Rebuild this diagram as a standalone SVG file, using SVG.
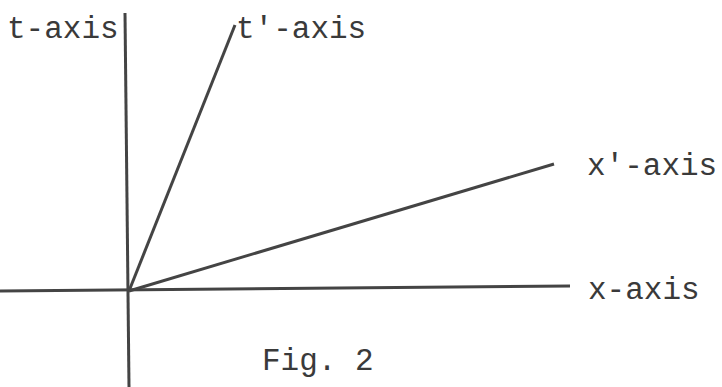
<svg xmlns="http://www.w3.org/2000/svg" width="722" height="387" viewBox="0 0 722 387">
<style>
.ax{stroke:#444;stroke-width:3;stroke-linecap:butt;fill:none}
.lb{font-family:"Liberation Mono","Courier New",monospace;font-size:31px;fill:#3a3a3a}
</style>
<rect width="722" height="387" fill="#fff"/>
<g id="connectors">
<line class="ax" x1="125" y1="13" x2="129" y2="387"/>
<line class="ax" x1="0" y1="291" x2="570" y2="286"/>
<line class="ax" x1="129" y1="291" x2="235" y2="25"/>
<line class="ax" x1="129" y1="291" x2="554" y2="164"/>
</g>
<g id="t-axis"><text class="lb" x="7" y="38">t-axis</text></g>
<g id="tp-axis"><text class="lb" x="236" y="38">t'-axis</text></g>
<g id="xp-axis"><text class="lb" x="587" y="175">x'-axis</text></g>
<g id="x-axis"><text class="lb" x="588" y="299">x-axis</text></g>
<g id="caption"><text class="lb" x="262" y="370">Fig. 2</text></g>
</svg>
